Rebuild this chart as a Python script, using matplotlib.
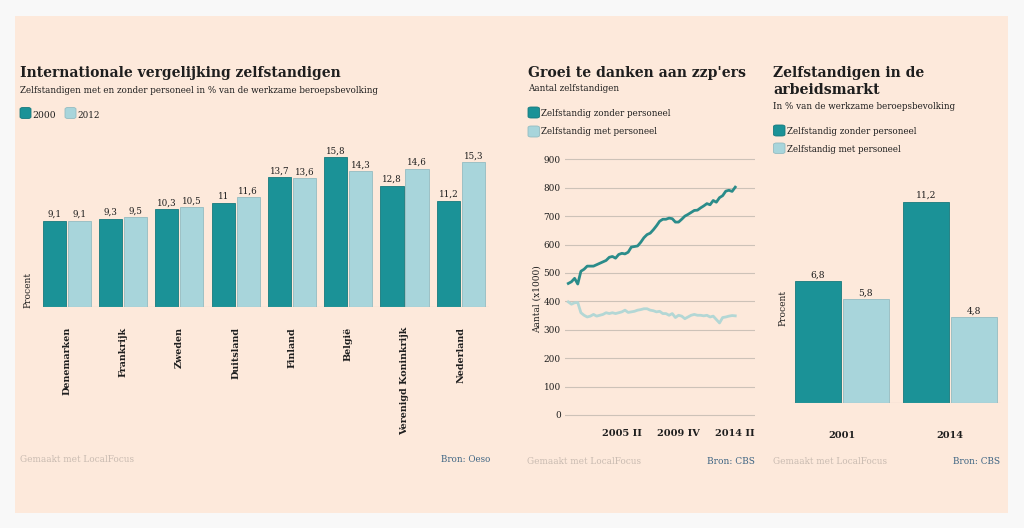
import matplotlib
matplotlib.use('Agg')
import matplotlib.pyplot as plt
from matplotlib.patches import Rectangle, FancyBboxPatch
import numpy as np

# ---------------- data ----------------
countries = ['Denemarken', 'Frankrijk', 'Zweden', 'Duitsland', 'Finland',
             'België', 'Verenigd Koninkrijk', 'Nederland']
vals_2000 = [9.1, 9.3, 10.3, 11.0, 13.7, 15.8, 12.8, 11.2]
vals_2012 = [9.1, 9.5, 10.5, 11.6, 13.6, 14.3, 14.6, 15.3]

quarters = [f"{y} {q}" for y in range(2001, 2015) for q in ['I', 'II', 'III', 'IV']][:54]
zzp = [463, 469, 481, 461, 506, 513, 524, 524, 524, 529,
       534, 539, 544, 555, 558, 552, 565, 569, 567, 573,
       591, 593, 595, 608, 624, 635, 640, 652, 666, 682,
       689, 689, 693, 691, 679, 679, 689, 700, 706, 713,
       720, 721, 729, 736, 744, 740, 755, 749, 765, 772,
       788, 791, 787, 802]
met_personeel = [398, 390, 395, 396, 360, 351, 345, 348, 354, 348,
                 351, 354, 360, 357, 360, 357, 360, 363, 369, 361,
                 363, 365, 369, 371, 374, 374, 369, 367, 363, 365,
                 357, 357, 351, 357, 343, 351, 348, 339, 345, 351,
                 354, 351, 351, 349, 351, 345, 348, 336, 324, 343,
                 345, 348, 350, 349]
line_ticks = ['2005 II', '2009 IV', '2014 II']
line_yticks = [0, 100, 200, 300, 400, 500, 600, 700, 800, 900]

years = ['2001', '2014']
zonder = [6.8, 11.2]
met = [5.8, 4.8]

# ---------------- style ----------------
W, H = 1024, 528
PEACH = '#fde9db'
OUTER = '#f8f8f8'
DARK = '#1b9297'
DARK_EDGE = '#16797d'
LIGHT = '#a8d5db'
LIGHT_EDGE = '#94bcc1'
LINE_DARK = '#2b8c8a'
LINE_LIGHT = '#b3d7d5'
TXT = '#1e1e1e'
GRAY = '#c9bbb1'
BRON = '#3d6483'
GRID = '#cdc2b8'
SERIF = 'DejaVu Serif'

fig = plt.figure(figsize=(W / 100, H / 100), dpi=100, facecolor=OUTER)
fig.patches.append(Rectangle((15 / W, 1 - 513 / H), (1008 - 15) / W, (513 - 16) / H,
                             transform=fig.transFigure, facecolor=PEACH,
                             edgecolor='none', zorder=-10))
renderer = fig.canvas.get_renderer()


def ftext(x, y, s, width=None, size=9, ha='left', va='baseline', **kw):
    t = fig.text(x / W, 1 - y / H, s, fontsize=size * 0.72, ha=ha, va=va,
                 family=SERIF, color=kw.pop('color', TXT), **kw)
    if width:
        w = t.get_window_extent(renderer).width
        t.set_fontsize(size * 0.72 * width / w)
    return t


def swatch(l, t, r, b, color, edge):
    fig.patches.append(FancyBboxPatch((l / W, 1 - b / H), (r - l) / W, (b - t) / H,
                                      boxstyle='round,pad=0,rounding_size=0.003',
                                      transform=fig.transFigure, facecolor=color,
                                      edgecolor=edge, lw=0.6, zorder=1))


def axes_px(l, t, r, b):
    ax = fig.add_axes([l / W, 1 - b / H, (r - l) / W, (b - t) / H])
    ax.set_facecolor('none')
    ax.set_zorder(2)
    for s in ax.spines.values():
        s.set_visible(False)
    return ax


def fmt(v):
    return f"{v:g}".replace('.', ',')


# ================= left chart =================
ftext(20, 77, 'Internationale vergelijking zelfstandigen', width=322, size=15, weight='bold')
ftext(20, 92.7, 'Zelfstandigen met en zonder personeel in % van de werkzame beroepsbevolking',
      width=360, size=9)
swatch(20, 107.5, 31, 118.5, DARK, DARK_EDGE)
ftext(32.5, 117.5, '2000', width=23.5, size=9)
swatch(65, 107.5, 76, 118.5, LIGHT, LIGHT_EDGE)
ftext(77.5, 117.5, '2012', width=22, size=9)

PXU = 9.48
ax1 = axes_px(38.5, 307 - 17 * PXU, 489, 307)
x = np.arange(len(countries))
bw, off = 0.41, 0.222
b1 = ax1.bar(x - off, vals_2000, bw, color=DARK, edgecolor=DARK_EDGE, lw=0.6)
b2 = ax1.bar(x + off, vals_2012, bw, color=LIGHT, edgecolor=LIGHT_EDGE, lw=0.6)
for bars, vals in ((b1, vals_2000), (b2, vals_2012)):
    for r, v in zip(bars, vals):
        ax1.annotate(fmt(v), (r.get_x() + r.get_width() / 2, v), xytext=(0, 1.2),
                     textcoords='offset points', ha='center', va='bottom',
                     fontsize=6.3, family=SERIF, color=TXT)
ax1.set_xlim(-0.5, 7.5)
ax1.set_ylim(0, 17)
ax1.axhline(0, xmin=0.01, xmax=1.0, color='#b8aea6', lw=0.8)
ax1.set_yticks([])
ax1.set_xticks(x)
ax1.set_xticklabels(countries, rotation=90, fontweight='bold', family=SERIF,
                    fontsize=6.9, color=TXT, va='top', ha='center')
ax1.tick_params(axis='x', length=0, pad=14.4)
ftext(27.5, 289.5, 'Procent', size=9, rotation=90, ha='center', va='center')
ftext(19.5, 462, 'Gemaakt met LocalFocus', width=114.5, size=9, color=GRAY)
ftext(490, 462, 'Bron: Oeso', width=50, size=9, ha='right', color=BRON)

# ================= middle chart =================
ftext(528, 76.7, "Groei te danken aan zzp'ers", width=219, size=15, weight='bold')
ftext(528, 90.7, 'Aantal zelfstandigen', width=92, size=9)
swatch(528, 107, 539.5, 118, DARK, DARK_EDGE)
ftext(541, 116, 'Zelfstandig zonder personeel', width=130.5, size=9)
swatch(528, 126, 539.5, 137, LIGHT, LIGHT_EDGE)
ftext(541, 134.3, 'Zelfstandig met personeel', width=116.5, size=9)

PXQ = 3.15
ax2 = axes_px(565, 159.3 - 20 * 0.2841, 755, 415 + 20 * 0.2841)
qi = np.arange(len(quarters))
for v in line_yticks:
    ax2.axhline(v, color=GRID, lw=0.8, zorder=1)
ax2.plot(qi, met_personeel, color=LINE_LIGHT, lw=2.0, zorder=3)
ax2.plot(qi, zzp, color=LINE_DARK, lw=2.0, zorder=4)
ax2.set_ylim(-20, 920)
ax2.set_xlim(-3.3 / PXQ, (755 - 568.3) / PXQ)
ax2.set_yticks(line_yticks)
ax2.set_yticklabels([str(v) for v in line_yticks], family=SERIF, fontsize=6.4, color=TXT)
ax2.tick_params(axis='y', length=0, pad=3)
ax2.set_xticks([quarters.index(t) for t in line_ticks])
ax2.set_xticklabels(line_ticks, family=SERIF, fontweight='bold', fontsize=7.0, color=TXT)
ax2.tick_params(axis='x', length=0, pad=6.0)
ftext(537, 299, 'Aantal (x1000)', size=9, rotation=90, ha='center', va='center')
ftext(527, 464, 'Gemaakt met LocalFocus', width=115.5, size=9, color=GRAY)
ftext(755, 464, 'Bron: CBS', width=48, size=9, ha='right', color=BRON)

# ================= right chart =================
ftext(773, 76.7, 'Zelfstandigen in de', width=152, size=15, weight='bold')
ftext(773, 94.5, 'arbeidsmarkt', width=107, size=15, weight='bold')
ftext(773, 109.3, 'In % van de werkzame beroepsbevolking', width=184, size=9)
swatch(773.5, 125, 785, 136, DARK, DARK_EDGE)
ftext(787, 134.3, 'Zelfstandig zonder personeel', width=130, size=9)
swatch(773.5, 143, 785, 153.5, LIGHT, LIGHT_EDGE)
ftext(787, 151.7, 'Zelfstandig met personeel', width=116, size=9)

PXR = 18.0
ax3 = axes_px(788, 403.3 - 12.5 * PXR, 1004, 403.3)
xr = np.arange(len(years))
bw3, off3 = 0.426, 0.222
c1 = ax3.bar(xr - off3, zonder, bw3, color=DARK, edgecolor=DARK_EDGE, lw=0.6)
c2 = ax3.bar(xr + off3, met, bw3, color=LIGHT, edgecolor=LIGHT_EDGE, lw=0.6)
for bars, vals in ((c1, zonder), (c2, met)):
    for r, v in zip(bars, vals):
        ax3.annotate(fmt(v), (r.get_x() + r.get_width() / 2, v), xytext=(0, 1.2),
                     textcoords='offset points', ha='center', va='bottom',
                     fontsize=6.6, family=SERIF, color=TXT)
ax3.set_xlim(-0.5, 1.5)
ax3.set_ylim(0, 12.5)
ax3.axhline(0, xmin=0.023, xmax=0.977, color='#b8aea6', lw=0.8)
ax3.set_yticks([])
ax3.set_xticks(xr)
ax3.set_xticklabels(years, family=SERIF, fontweight='bold', fontsize=7.0, color=TXT)
ax3.tick_params(axis='x', length=0, pad=20)
ftext(782.7, 307.5, 'Procent', size=9, rotation=90, ha='center', va='center')
ftext(773, 464, 'Gemaakt met LocalFocus', width=115, size=9, color=GRAY)
ftext(1000, 464, 'Bron: CBS', width=47, size=9, ha='right', color=BRON)

fig.savefig('out.png', dpi=100, facecolor=OUTER)
